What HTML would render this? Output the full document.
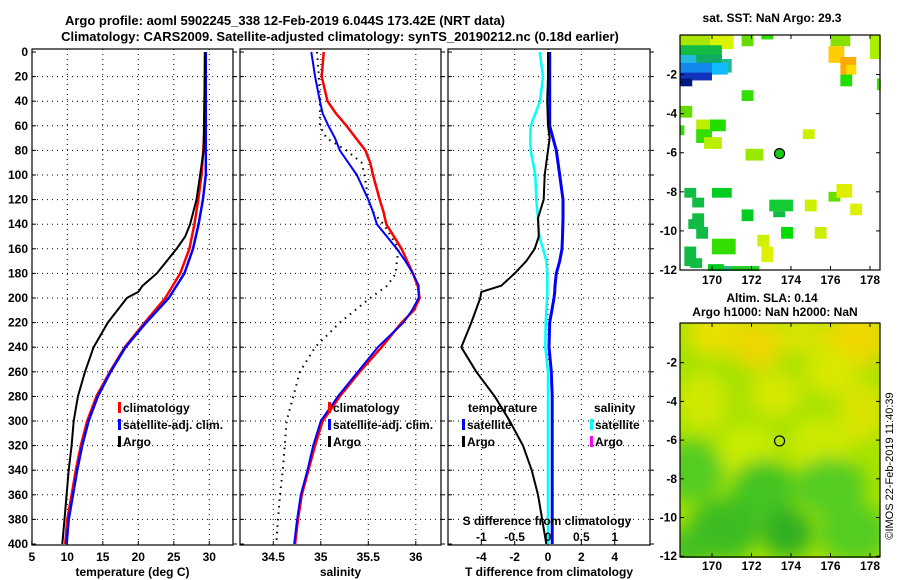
<!DOCTYPE html>
<html><head><meta charset="utf-8"><style>
html,body{margin:0;padding:0;background:#fff;}
svg{display:block;font-family:"Liberation Sans",sans-serif;font-weight:bold;}
</style></head><body>
<svg id="fig" width="900" height="580" viewBox="0 0 900 580" xmlns="http://www.w3.org/2000/svg">
<defs>
<filter id="blur" x="-50%" y="-50%" width="200%" height="200%"><feGaussianBlur stdDeviation="9"/></filter>
<clipPath id="clipSLA"><rect x="680" y="323" width="200" height="235"/></clipPath>
<clipPath id="clipP1"><rect x="32" y="50" width="201" height="495"/></clipPath>
<clipPath id="clipP2"><rect x="240" y="50" width="201" height="495"/></clipPath>
<clipPath id="clipP3"><rect x="448" y="50" width="202" height="495"/></clipPath>
</defs>
<text x="285" y="25" font-size="13" text-anchor="middle">Argo profile: aoml 5902245_338 12-Feb-2019 6.044S 173.42E (NRT data)</text>
<text x="340" y="41" font-size="13" text-anchor="middle">Climatology: CARS2009. Satellite-adjusted climatology: synTS_20190212.nc (0.18d earlier)</text>
<g id="g1"></g>
<g id="g2"></g>
<g id="g3"></g>
<g id="gm1"></g>
<g id="gm2"></g>
<text transform="translate(893,466) rotate(-90)" font-size="11" font-weight="normal" text-anchor="middle">©IMOS 22-Feb-2019 11:40:39</text>
</svg>
<script>
// ---- data ----
const depthTicks = [0,20,40,60,80,100,120,140,160,180,200,220,240,260,280,300,320,340,360,380,400];
const tempTicks = [5,10,15,20,25,30];
const salTicks = [34.5,35,35.5,36];
const tdiffTicks = [-4,-2,0,2,4];
const sdiffTicks = [-1,-0.5,0,0.5,1];
const sdiffTickLabels = ["-1","-0.5","0","0.5","1"];

const climDepth = [0,20,40,60,80,100,120,140,160,180,200,220,240,260,280,300,320,340,360,380,400];
const climT = [29.4,29.4,29.4,29.35,29.15,28.9,28.45,27.9,27.2,25.9,23.8,20.9,18.1,16.0,14.1,12.8,11.9,11.2,10.6,10.0,9.7];
const satT  = [29.5,29.5,29.5,29.5,29.5,29.5,29.1,28.5,27.7,26.5,24.3,21.1,18.2,16.1,14.3,13.0,12.1,11.4,10.8,10.2,9.9];
const argoDepth = [0,80,100,120,130,140,150,160,170,180,190,195,200,220,240,260,280,300,320,340,360,380,400];
const argoT = [29.4,29.2,28.7,28.2,27.75,27.3,26.6,25.4,24.0,22.6,20.6,20.0,18.4,15.7,13.7,12.5,11.5,10.9,10.6,10.2,9.9,9.6,9.3];

const salDepth = [0,20,40,50,60,70,80,90,100,120,130,140,160,170,180,190,200,210,220,240,260,280,300,320,340,360,380,400];
const climS = [35.03,35.01,35.07,35.16,35.27,35.37,35.47,35.52,35.55,35.62,35.66,35.69,35.85,35.91,35.97,36.02,36.04,35.98,35.85,35.64,35.41,35.2,35.02,34.94,34.87,34.8,34.76,34.73];
const satS  = [34.9,34.94,34.99,35.02,35.08,35.15,35.2,35.29,35.38,35.5,35.55,35.59,35.8,35.89,35.97,36.03,36.03,35.96,35.87,35.6,35.39,35.18,35.0,34.92,34.86,34.79,34.75,34.72];
const argoS = [34.96,34.98,34.99,34.99,34.99,35.06,35.27,35.43,35.46,35.5,35.55,35.66,35.82,35.8,35.79,35.7,35.52,35.36,35.2,34.94,34.78,34.71,34.64,34.62,34.6,34.57,34.55,34.53];

const diffDepth = [0,20,40,60,70,80,100,120,135,150,160,170,180,190,195,200,220,240,260,280,300,320,340,360,380,400];
const satDT  = [0.1,0.1,0.1,0.1,0.3,0.5,0.7,0.9,0.9,0.87,0.84,0.7,0.5,0.42,0.4,0.36,0.1,0.06,0.2,0.25,0.25,0.25,0.25,0.25,0.25,0.25];
const argoDT = [0,0,-0.05,0,0.1,0,-0.2,-0.26,-0.6,-0.55,-0.8,-1.3,-2.0,-2.8,-4.0,-4.06,-4.6,-5.2,-4.3,-3.2,-2.3,-1.5,-0.98,-0.6,-0.35,-0.1];
const satDS  = [-0.125,-0.075,-0.12,-0.26,-0.265,-0.26,-0.19,-0.175,-0.15,-0.13,-0.075,-0.025,-0.01,-0.01,-0.01,-0.015,-0.035,-0.04,0.0,0.0,0.0,0.0,0.0,0.0,0.0,0.0];

const lonTicks = [170,172,174,176,178];
const latTicks = [-2,-4,-6,-8,-10,-12];
const argoLon = 173.42;
const argoLat = -6.044;
// SST squares: [lonWest, latNorth, lonEast, latSouth, colour]
const sstCells = [
 [168.38,0,170.4,-0.7,"#a8e800"],[169.9,0,171.1,-0.7,"#d8f400"],[168.38,-0.5,170.5,-1.3,"#11bb44"],
 [168.38,-1.0,169.2,-1.6,"#22bbdd"],[169.2,-1.0,170.5,-1.6,"#11aa66"],[170.5,-1.2,171.0,-1.9,"#22bb99"],
 [168.38,-1.4,170.5,-2.0,"#1188ee"],[168.38,-1.9,170.0,-2.3,"#1133bb"],[168.38,-2.2,169.0,-2.6,"#001a80"],
 [170.0,-1.4,170.8,-2.0,"#11bbff"],
 [171.5,0,172.1,-0.55,"#66dd00"],[172.5,0,173.1,-0.2,"#33dd00"],
 [176.0,0,177.0,-0.55,"#88e000"],[175.9,-0.55,176.7,-1.4,"#ffcc00"],[176.5,-1.1,177.3,-2.0,"#ffaa00"],
 [176.8,-1.5,177.3,-2.0,"#ffdd00"],[176.5,-2.0,177.1,-2.6,"#22dd00"],[178.0,0,178.54,-1.2,"#aaee00"],
 [178.35,-2.2,178.54,-2.8,"#44dd00"],
 [171.5,-2.8,172.1,-3.35,"#33dd00"],[168.38,-3.6,169.0,-4.2,"#66dd00"],[168.38,-4.6,168.6,-5.1,"#33dd00"],
 [169.2,-4.3,170.0,-5.0,"#bbee00"],[169.9,-4.3,170.7,-4.9,"#22dd00"],[169.2,-4.8,170.0,-5.5,"#33dd00"],
 [169.6,-5.2,170.5,-5.8,"#bbee00"],[174.6,-4.8,175.2,-5.3,"#ccf000"],[171.7,-5.8,172.6,-6.4,"#99e800"],
 [168.6,-7.8,169.2,-8.3,"#11bb44"],[169.0,-8.3,169.6,-8.8,"#11bb44"],[170.0,-7.8,171.0,-8.3,"#00cc22"],
 [171.5,-8.9,172.1,-9.5,"#00cc22"],[169.0,-9.1,169.6,-9.9,"#11bb44"],[168.8,-9.4,169.2,-9.9,"#11bb44"],
 [169.2,-9.8,169.8,-10.4,"#11bb44"],[172.9,-8.4,174.1,-9.0,"#11cc33"],[173.1,-9.0,173.7,-9.3,"#11bb44"],
 [174.7,-8.4,175.3,-9.0,"#ccf000"],[175.9,-8.0,176.5,-8.5,"#66dd00"],[176.3,-7.6,177.1,-8.3,"#ddee00"],
 [177.0,-8.6,177.6,-9.2,"#ddf000"],[173.5,-9.8,174.1,-10.4,"#00dd00"],[175.2,-9.8,175.8,-10.4,"#ccee00"],
 [172.3,-10.2,172.9,-10.8,"#ccf000"],[172.5,-10.8,173.1,-11.6,"#ddf000"],[170.0,-10.4,171.2,-11.2,"#33dd00"],
 [168.6,-10.8,169.2,-11.8,"#11bb44"],[168.9,-11.4,169.5,-11.9,"#11bb44"],[169.8,-11.8,172.4,-12.05,"#22cc22"],
 [170.4,-11.8,171.0,-12.05,"#22bb88"],[169.8,-11.7,170.6,-12.05,"#00cc22"]
];
// SLA field blobs: [lon, lat, rx(deg), ry(deg), colour]
const slaBlobs = [
 [170.2,-0.5,1.5,1.2,"#e8e000"],[172.3,-1.0,1.3,1.4,"#ecd800"],[174.5,-0.6,1.3,1.0,"#d8e400"],
 [177.3,-0.8,1.6,1.5,"#eed800"],[176.0,-2.5,1.3,1.2,"#d8e800"],[169.5,-4.0,1.3,1.5,"#d0e800"],
 [173.2,-3.6,1.3,1.2,"#d4e800"],[177.6,-4.5,1.2,1.6,"#d8e400"],[171.8,-6.6,1.6,1.4,"#c8ec00"],
 [175.5,-6.2,1.6,1.4,"#ccea00"],[169.0,-7.6,1.6,1.6,"#55cc22"],[172.6,-8.6,1.6,1.6,"#44c422"],
 [176.0,-8.4,1.8,1.5,"#55cc22"],[170.6,-10.6,1.8,1.6,"#3cbc22"],[173.8,-10.8,1.3,1.3,"#30b020"],
 [177.2,-10.8,1.8,1.5,"#55cc22"],[168.8,-11.6,1.2,1.0,"#44c022"]
];

const NS="http://www.w3.org/2000/svg";
function mk(parent,tag,attrs,text){const e=document.createElementNS(NS,tag);for(const k in attrs)e.setAttribute(k,attrs[k]);if(text!==undefined)e.textContent=text;parent.appendChild(e);return e;}

// ---- axes scales ----
const yD = d => 52 + d*1.23;
const xT = t => 67.3 + (t-10)*7.1;
const xS = s => 273.3 + (s-34.5)*95;
const xDT = v => 548 + v*16.67;
const xDS = v => 548 + v*66.7;

function panel(g,x0,x1,xt,ticks,labels,title,clip,showY){
  const top=49, bot=545;
  ticks.forEach((t,i)=>{
    const x=xt(t);
    if(x>x0+2 && x<x1-2){
      const gl=mk(g,'line',{x1:x,y1:top,x2:x,y2:bot,stroke:'#000','stroke-width':1,'stroke-dasharray':'1 4'});
      
      
    }
    const tk=mk(g,'line',{x1:x,y1:bot,x2:x,y2:bot-4,stroke:'#000'});
    
    
    const tl=mk(g,'text',{x:x,y:561,'font-size':12,'text-anchor':'middle'},labels?labels[i]:String(t));
    
    
  });
  depthTicks.forEach(d=>{
    const y=yD(d);
    if(d>0&&d<400){
      const gl=mk(g,'line',{x1:x0,y1:y,x2:x1,y2:y,stroke:'#000','stroke-width':1,'stroke-dasharray':'1 4'});
      
      
    }
    mk(g,'line',{x1:x0,y1:y,x2:x0+4,y2:y,stroke:'#000'});
    mk(g,'line',{x1:x1,y1:y,x2:x1+4,y2:y,stroke:'#000'});
    if(showY){
      const tl=mk(g,'text',{x:28,y:y+4,'font-size':12,'text-anchor':'end'},String(d));
      
      
    }
  });
  const fr=mk(g,'rect',{x:x0,y:top,width:x1-x0,height:bot-top,fill:'none',stroke:'#000','stroke-width':1.2});
  
  
  const at=mk(g,'text',{x:(x0+x1)/2,y:576,'font-size':12,'text-anchor':'middle'},title);
  
  
}
function series(g,xs,ds,xf,color,w,name,dash,clip){
  let p='';
  for(let i=0;i<xs.length;i++){p+=(i?'L':'M')+xf(xs[i]).toFixed(1)+','+yD(ds[i]).toFixed(1);}
  const a={d:p,fill:'none',stroke:color,'stroke-width':w,'stroke-linejoin':'round','clip-path':'url(#'+clip+')'};
  if(dash)a['stroke-dasharray']=dash;
  const e=mk(g,'path',a);
  
  
}
function legend(g,x,y,color,label,name){
  const m=mk(g,'rect',{x:x,y:y-10,width:3,height:11,fill:color});
  
  
  const t=mk(g,'text',{x:x+5,y:y,'font-size':12},label);
  
  
}

// Panel 1
const g1=document.getElementById('g1');
panel(g1,32,233,xT,tempTicks,null,'temperature (deg C)','clipP1',true);
series(g1,climT,climDepth,xT,'#ff0000',2.5,'climatology-temperature-line',null,'clipP1');
series(g1,satT,climDepth,xT,'#0000ff',2.5,'satellite-temperature-line',null,'clipP1');
series(g1,argoT,argoDepth,xT,'#000',2,'argo-temperature-line',null,'clipP1');
legend(g1,118,412,'#ff0000','climatology','legend-climatology');
legend(g1,118,429,'#0000ff','satellite-adj. clim.','legend-satellite');
legend(g1,118,446,'#000','Argo','legend-argo');

// Panel 2
const g2=document.getElementById('g2');
panel(g2,240,441,xS,salTicks,null,'salinity','clipP2',false);
series(g2,argoS,salDepth,xS,'#000',2,'argo-salinity-line','1.5 5','clipP2');
series(g2,climS,salDepth,xS,'#ff0000',2.5,'climatology-salinity-line',null,'clipP2');
series(g2,satS,salDepth,xS,'#0000ff',2,'satellite-salinity-line',null,'clipP2');
legend(g2,328,412,'#ff0000','climatology','legend-climatology');
legend(g2,328,429,'#0000ff','satellite-adj. clim.','legend-satellite');
legend(g2,328,446,'#000','Argo','legend-argo');

// Panel 3
const g3=document.getElementById('g3');
panel(g3,448,650,xDT,tdiffTicks,null,'T difference from climatology','clipP3',false);
series(g3,satDS,diffDepth,xDS,'#00ffff',2.5,'satellite-salinity-diff-line',null,'clipP3');
series(g3,satDT,diffDepth,xDT,'#0000ff',3,'satellite-temperature-diff-line',null,'clipP3');
series(g3,argoDT,diffDepth,xDT,'#000',2,'argo-temperature-diff-line',null,'clipP3');
{
  const t=mk(g3,'text',{x:468,y:412,'font-size':12},'temperature');
  
  
  const s=mk(g3,'text',{x:594,y:412,'font-size':12},'salinity');
  
  
}
legend(g3,462,429,'#0000ff','satellite','legend-t-satellite');
legend(g3,462,446,'#000','Argo','legend-t-argo');
legend(g3,590,429,'#00ffff','satellite','legend-s-satellite');
legend(g3,590,446,'#ff00ff','Argo','legend-s-argo');
{
  const t=mk(g3,'text',{x:547,y:525,'font-size':12,'text-anchor':'middle'},'S difference from climatology');
  
  
  sdiffTicks.forEach((v,i)=>{
    const l=mk(g3,'text',{x:xDS(v),y:541,'font-size':12,'text-anchor':'middle'},sdiffTickLabels[i]);
    
    
  });
}

// ---- maps ----
const mx = lon => 680 + (lon-168.38)*19.75;
const my1 = lat => 35.5 - lat*19.54;
const my2 = lat => 324 - lat*19.35;

function mapAxes(g,top,bot,my,titleLines,labY){
  const fr=mk(g,'rect',{x:680,y:top,width:200,height:bot-top,fill:'none',stroke:'#000','stroke-width':1.2});
  
  
  lonTicks.forEach(l=>{
    const x=mx(l);
    mk(g,'line',{x1:x,y1:top,x2:x,y2:top+4,stroke:'#000'});
    mk(g,'line',{x1:x,y1:bot,x2:x,y2:bot-4,stroke:'#000'});
    const t=mk(g,'text',{x:x,y:labY,'font-size':12,'text-anchor':'middle'},String(l));
    
    
  });
  latTicks.forEach(l=>{
    const y=my(l);
    mk(g,'line',{x1:680,y1:y,x2:684,y2:y,stroke:'#000'});
    mk(g,'line',{x1:880,y1:y,x2:876,y2:y,stroke:'#000'});
    const t=mk(g,'text',{x:677,y:y+4,'font-size':12,'text-anchor':'end'},String(l));
    
    
  });
  titleLines.forEach(tl=>{
    const t=mk(g,'text',{x:tl[1],y:tl[2],'font-size':12,'text-anchor':'middle'},tl[0]);
    
    
  });
}

const gm1=document.getElementById('gm1');
sstCells.forEach(c=>{
  const r=mk(gm1,'rect',{x:mx(c[0]),y:my1(c[1]),width:mx(c[2])-mx(c[0]),height:my1(c[3])-my1(c[1]),fill:c[4]});
  
  
});
mapAxes(gm1,35,270,my1,[["sat. SST: NaN Argo: 29.3",772,22]],284);
{
  const c=mk(gm1,'circle',{cx:mx(argoLon),cy:my1(argoLat),r:5,fill:'#11cc11',stroke:'#000','stroke-width':1.2});
  
  
}

const gm2=document.getElementById('gm2');
{
  const bg=mk(gm2,'rect',{x:680,y:323,width:200,height:235,fill:'#a6e200'});
  
  
  const gb=mk(gm2,'g',{'clip-path':'url(#clipSLA)',filter:'url(#blur)'});
  slaBlobs.forEach(b=>{
    const e=mk(gb,'ellipse',{cx:mx(b[0]),cy:my2(b[1]),rx:b[2]*19.75,ry:b[3]*19.35,fill:b[4]});
    
    
  });
}
mapAxes(gm2,323,557,my2,[["Altim. SLA: 0.14",772,302],["Argo h1000: NaN h2000: NaN",775,316]],570);
{
  const c=mk(gm2,'circle',{cx:mx(argoLon),cy:my2(argoLat),r:5,fill:'none',stroke:'#000','stroke-width':1.2});
  
  
}
</script>
</body></html>
